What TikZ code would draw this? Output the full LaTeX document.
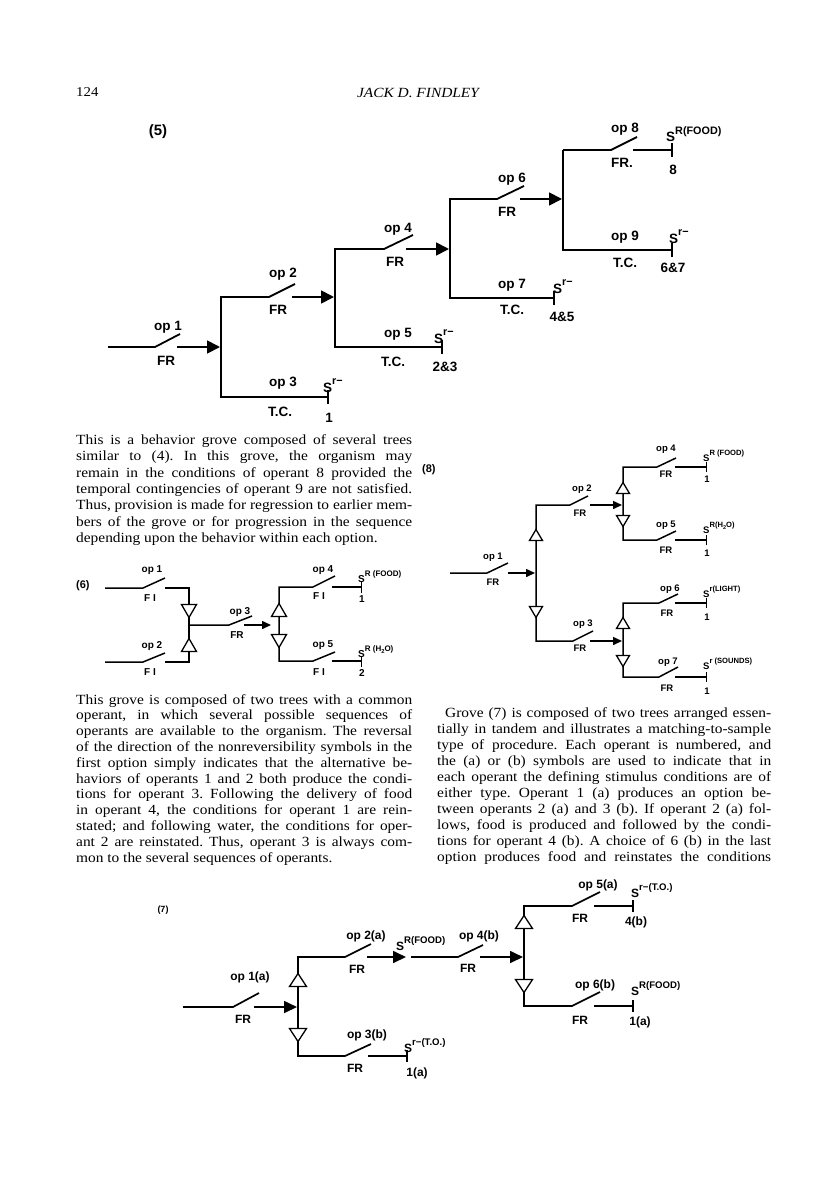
\documentclass[tikz,border=0pt]{standalone}
\usepackage{fontspec}
\setmainfont{Liberation Serif}[FakeStretch=1.1]
\newfontfamily\lett{Liberation Sans}
\usetikzlibrary{arrows.meta}
\frenchspacing
\newcommand\Ssup[1]{S\raisebox{0.55em}{\scalebox{0.8}{#1}}}
\newcommand\subtwo{\raisebox{-0.25em}{\scalebox{0.72}{2}}}
\newcommand\triU[4]{\draw[tri] (#1-#3,#2+#4/2) -- (#1+#3,#2+#4/2) -- (#1,#2-#4/2) -- cycle;}
\newcommand\triD[4]{\draw[tri] (#1-#3,#2-#4/2) -- (#1+#3,#2-#4/2) -- (#1,#2+#4/2) -- cycle;}
\newcommand\jl[4]{\node[txt] (#1) at #2 {\makebox[#3][s]{#4}};}
\begin{document}
\begin{tikzpicture}[x=1pt,y=-1pt,
  txt/.style={anchor=base west,inner sep=0pt,font=\frenchspacing\fontsize{14}{16}\selectfont},
  l5/.style={inner sep=0pt,font=\lett\bfseries\fontsize{13.5}{14}\selectfont},
  s5/.style={l5,anchor=base west},
  l6/.style={inner sep=0pt,font=\lett\bfseries\fontsize{10}{11}\selectfont},
  s6/.style={l6,anchor=base west},
  l8/.style={inner sep=0pt,font=\lett\bfseries\fontsize{9.5}{10}\selectfont},
  s8/.style={l8,anchor=base west},
  l7/.style={inner sep=0pt,font=\lett\bfseries\fontsize{12}{13}\selectfont},
  s7/.style={l7,anchor=base west},
  w5/.style={line width=1.8pt,line join=miter},
  w6/.style={line width=1.5pt,line join=miter},
  w8/.style={line width=1.5pt,line join=miter},
  w7/.style={line width=1.7pt,line join=miter},
  ar5/.style={w5,-{Triangle[length=13pt,width=13pt]}},
  ar6/.style={w6,-{Triangle[length=9pt,width=8pt]}},
  ar8/.style={w8,-{Triangle[length=9pt,width=8pt]}},
  ar7/.style={w7,-{Triangle[length=13pt,width=12pt]}},
  tb5/.style={w5,-{Bar[width=14pt]}},
  tb6/.style={w6,-{Bar[width=11pt]}},
  tb8/.style={w8,-{Bar[width=10pt]}},
  tb7/.style={w7,-{Bar[width=12pt]}},
  tri/.style={line width=1.3pt,fill=white,line join=miter}]
\useasboundingbox (0,0) rectangle (816,1188);
\fill[white] (0,0) rectangle (816,1188);

% header
\node[txt,font=\fontsize{13.5}{15}\selectfont] (pg) at (76,97) {124};
\node[inner sep=0pt,font=\itshape\fontsize{14}{15}\selectfont] (hd) at (418,93) {JACK D. FINDLEY};

% ---------------- (5)
\node[l5,font=\lett\bfseries\fontsize{15}{16}\selectfont] (n5) at (158,132) {(5)};
\draw[w5] (108,347) -- (155,347) -- (180,334);
\draw[ar5] (177,347) -- (220,347);
\draw[tb5] (295,284) -- (269,297) -- (221,297) -- (221,397) -- (329,397);
\draw[ar5] (292,297) -- (334,297);
\draw[tb5] (413,235) -- (384,249) -- (335,249) -- (335,347) -- (443,347);
\draw[ar5] (406,249) -- (449,249);
\draw[tb5] (524,186) -- (497,199) -- (450,199) -- (450,298) -- (555,298);
\draw[ar5] (520,199) -- (562,199);
\draw[tb5] (563,150) -- (563,250) -- (673,250);
\draw[w5] (563,150) -- (611,150) -- (637,137);
\draw[tb5] (633,150) -- (673,150);
\node[l5] (a1) at (168,327) {op 1};
\node[l5] (a1f) at (166,361) {FR};
\node[l5] (a2) at (283,274) {op 2};
\node[l5] (a2f) at (278,310) {FR};
\node[l5] (a3) at (283,383) {op 3};
\node[l5] (a3t) at (280,412) {T.C.};
\node[s5] (a3s) at (323,392) {\Ssup{r−}};
\node[l5] (a3n) at (329,418) {1};
\node[l5] (a4) at (398,229) {op 4};
\node[l5] (a4f) at (395,262) {FR};
\node[l5] (a5) at (398,334) {op 5};
\node[l5] (a5t) at (393,362) {T.C.};
\node[s5] (a5s) at (434,343) {\Ssup{r−}};
\node[l5] (a5n) at (445,367) {2\&3};
\node[l5] (a6) at (512,179) {op 6};
\node[l5] (a6f) at (507,212) {FR};
\node[l5] (a7) at (512,285) {op 7};
\node[l5] (a7t) at (512,310) {T.C.};
\node[s5] (a7s) at (553,293) {\Ssup{r−}};
\node[l5] (a7n) at (562,317) {4\&5};
\node[l5] (a8) at (625,129) {op 8};
\node[l5] (a8f) at (622,163) {FR.};
\node[s5] (a8s) at (666,142) {\Ssup{R(FOOD)}};
\node[l5] (a8n) at (673,170) {8};
\node[l5] (a9) at (625,237) {op 9};
\node[l5] (a9t) at (625,263) {T.C.};
\node[s5] (a9s) at (669,243) {\Ssup{r−}};
\node[l5] (a9n) at (673,268) {6\&7};

% paragraph 1
\jl{p1}{(76,444.5)}{336pt}{This is a behavior grove composed of several trees}
\jl{p2}{(76,460.8)}{336pt}{similar to (4). In this grove, the organism may}
\jl{p3}{(76,477.1)}{336pt}{remain in the conditions of operant 8 provided the}
\jl{p4}{(76,493.4)}{336pt}{temporal contingencies of operant 9 are not satisfied.}
\jl{p5}{(76,509.7)}{336pt}{Thus, provision is made for regression to earlier mem-}
\jl{p6}{(76,526)}{336pt}{bers of the grove or for progression in the sequence}
\node[txt] (p7) at (76,542.3) {depending upon the behavior within each option.};

% ---------------- (6)
\node[l6,anchor=west,font=\lett\bfseries\fontsize{11}{12}\selectfont] (n6) at (76,586) {(6)};
\draw[w6] (105,588) -- (143,588) -- (165,578);
\draw[w6] (105,662) -- (143,662) -- (165,653);
\draw[w6] (165,588) -- (189,588) -- (189,662) -- (165,662);
\triD{189}{611}{7.5}{13}
\triU{189}{645}{7.5}{13}
\draw[w6] (189,625) -- (229,625) -- (252,616);
\draw[ar6] (244,625) -- (271,625);
\draw[w6] (335,576) -- (313,587) -- (279,587) -- (279,661) -- (313,661) -- (335,652);
\triU{279}{610}{7.5}{13}
\triD{279}{641}{7.5}{13}
\draw[tb6] (332,587) -- (362,587);
\draw[tb6] (332,661) -- (362,661);
\node[l6] (b1) at (152,570) {op 1};
\node[l6] (b1f) at (150,598) {F I};
\node[l6] (b2) at (152,646) {op 2};
\node[l6] (b2f) at (150,672) {F I};
\node[l6] (b3) at (240,612) {op 3};
\node[l6] (b3f) at (237,635) {FR};
\node[l6] (b4) at (323,570) {op 4};
\node[l6] (b4f) at (319,596) {F I};
\node[s6] (b4s) at (358,582) {\Ssup{R (FOOD)}};
\node[l6] (b4n) at (362,599) {1};
\node[l6] (b5) at (323,645) {op 5};
\node[l6] (b5f) at (319,672) {F I};
\node[s6] (b5s) at (358,657) {\Ssup{R (H\subtwo O)}};
\node[l6] (b5n) at (362,673) {2};

% paragraph 2
\jl{q1}{(76,704)}{336pt}{This grove is composed of two trees with a common}
\jl{q2}{(76,719.8)}{336pt}{operant, in which several possible sequences of}
\jl{q3}{(76,735.6)}{336pt}{operants are available to the organism. The reversal}
\jl{q4}{(76,751.4)}{336pt}{of the direction of the nonreversibility symbols in the}
\jl{q5}{(76,767.2)}{336pt}{first option simply indicates that the alternative be-}
\jl{q6}{(76,783)}{336pt}{haviors of operants 1 and 2 both produce the condi-}
\jl{q7}{(76,798.8)}{336pt}{tions for operant 3. Following the delivery of food}
\jl{q8}{(76,814.6)}{336pt}{in operant 4, the conditions for operant 1 are rein-}
\jl{q9}{(76,830.4)}{336pt}{stated; and following water, the conditions for oper-}
\jl{q10}{(76,846.2)}{336pt}{ant 2 are reinstated. Thus, operant 3 is always com-}
\node[txt] (q11) at (76,862) {mon to the several sequences of operants.};

% ---------------- (8)
\node[l8,anchor=west,font=\lett\bfseries\fontsize{11}{12}\selectfont] (n8) at (422,470) {(8)};
\draw[w8] (450,573) -- (487,573) -- (508,563);
\draw[ar8] (508,573) -- (535,573);
\draw[w8] (588,496) -- (570,505) -- (536,505) -- (536,641) -- (573,641) -- (593,631);
\triU{536}{535}{6.5}{11}
\triD{536}{612}{6.5}{11}
\draw[ar8] (590,505) -- (622,505);
\draw[w8] (676,458) -- (657,467) -- (623,467) -- (623,540) -- (657,540) -- (676,531);
\triU{623}{488}{6.5}{11}
\triD{623}{521}{6.5}{11}
\draw[tb8] (675,467) -- (707,467);
\draw[tb8] (675,540) -- (707,540);
\draw[ar8] (590,641) -- (622,641);
\draw[w8] (678,594) -- (659,603) -- (623,603) -- (623,677) -- (659,677) -- (678,667);
\triU{623}{623}{6.5}{11}
\triD{623}{661}{6.5}{11}
\draw[tb8] (675,603) -- (707,603);
\draw[tb8] (675,677) -- (707,677);
\node[l8] (c1) at (493,557) {op 1};
\node[l8] (c1f) at (493,582) {FR};
\node[l8] (c2) at (582,489) {op 2};
\node[l8] (c2f) at (580,513) {FR};
\node[l8] (c3) at (583,624) {op 3};
\node[l8] (c3f) at (580,648) {FR};
\node[l8] (c4) at (666,449) {op 4};
\node[l8] (c4f) at (666,474) {FR};
\node[s8] (c4s) at (703,461) {\Ssup{R (FOOD)}};
\node[l8] (c4n) at (707,479) {1};
\node[l8] (c5) at (666,525) {op 5};
\node[l8] (c5f) at (666,550) {FR};
\node[s8] (c5s) at (703,533) {\Ssup{R(H\subtwo O)}};
\node[l8] (c5n) at (707,553) {1};
\node[l8] (c6) at (670,589) {op 6};
\node[l8] (c6f) at (667,613) {FR};
\node[s8] (c6s) at (703,597) {\Ssup{r(LIGHT)}};
\node[l8] (c6n) at (707,617) {1};
\node[l8] (c7) at (668,662) {op 7};
\node[l8] (c7f) at (667,688) {FR};
\node[s8] (c7s) at (703,669) {\Ssup{r (SOUNDS)}};
\node[l8] (c7n) at (707,691) {1};

% right paragraph
\jl{r1}{(445,717)}{326pt}{Grove (7) is composed of two trees arranged essen-}
\jl{r2}{(437,733)}{334pt}{tially in tandem and illustrates a matching-to-sample}
\jl{r3}{(437,749)}{334pt}{type of procedure. Each operant is numbered, and}
\jl{r4}{(437,765)}{334pt}{the (a) or (b) symbols are used to indicate that in}
\jl{r5}{(437,781)}{334pt}{each operant the defining stimulus conditions are of}
\jl{r6}{(437,797)}{334pt}{either type. Operant 1 (a) produces an option be-}
\jl{r7}{(437,813)}{334pt}{tween operants 2 (a) and 3 (b). If operant 2 (a) fol-}
\jl{r8}{(437,829)}{334pt}{lows, food is produced and followed by the condi-}
\jl{r9}{(437,845)}{334pt}{tions for operant 4 (b). A choice of 6 (b) in the last}
\jl{r10}{(437,861)}{334pt}{option produces food and reinstates the conditions}

% ---------------- (7)
\node[l7,font=\lett\bfseries\fontsize{9}{10}\selectfont] (n7) at (163,910) {(7)};
\draw[w7] (183,1007) -- (233,1007) -- (259,993);
\draw[ar7] (254,1007) -- (297,1007);
\draw[w7] (371,944) -- (345,957) -- (298,957) -- (298,1056) -- (345,1056) -- (371,1044);
\triU{298}{980}{8.5}{13}
\triD{298}{1035}{8.5}{13}
\draw[ar7] (367,957) -- (406,957);
\draw[w7] (411,957) -- (458,957) -- (483,945);
\draw[ar7] (480,957) -- (523,957);
\draw[w7] (600,892) -- (572,906) -- (524,906) -- (524,1006) -- (572,1006) -- (600,992);
\triU{524}{922}{8.5}{13}
\triD{524}{986}{8.5}{13}
\draw[tb7] (594,906) -- (634,906);
\draw[tb7] (594,1006) -- (634,1006);
\draw[tb7] (368,1056) -- (408,1056);
\node[l7] (d1) at (250,977) {op 1(a)};
\node[l7] (d1f) at (243,1019) {FR};
\node[l7] (d2) at (366,936) {op 2(a)};
\node[l7] (d2f) at (357,969) {FR};
\node[s7] (d2s) at (396,950) {\Ssup{R(FOOD)}};
\node[l7] (d4) at (479,936) {op 4(b)};
\node[l7] (d4f) at (468,968) {FR};
\node[l7] (d5) at (598,885) {op 5(a)};
\node[l7] (d5f) at (580,918) {FR};
\node[s7] (d5s) at (631,897) {\Ssup{r−(T.O.)}};
\node[l7] (d5n) at (636,922) {4(b)};
\node[l7] (d6) at (595,985) {op 6(b)};
\node[l7] (d6f) at (580,1020) {FR};
\node[s7] (d6s) at (631,995) {\Ssup{R(FOOD)}};
\node[l7] (d6n) at (640,1022) {1(a)};
\node[l7] (d3) at (367,1035) {op 3(b)};
\node[l7] (d3f) at (355,1068) {FR};
\node[s7] (d3s) at (404,1052) {\Ssup{r−(T.O.)}};
\node[l7] (d3n) at (417,1073) {1(a)};
\end{tikzpicture}
\end{document}
